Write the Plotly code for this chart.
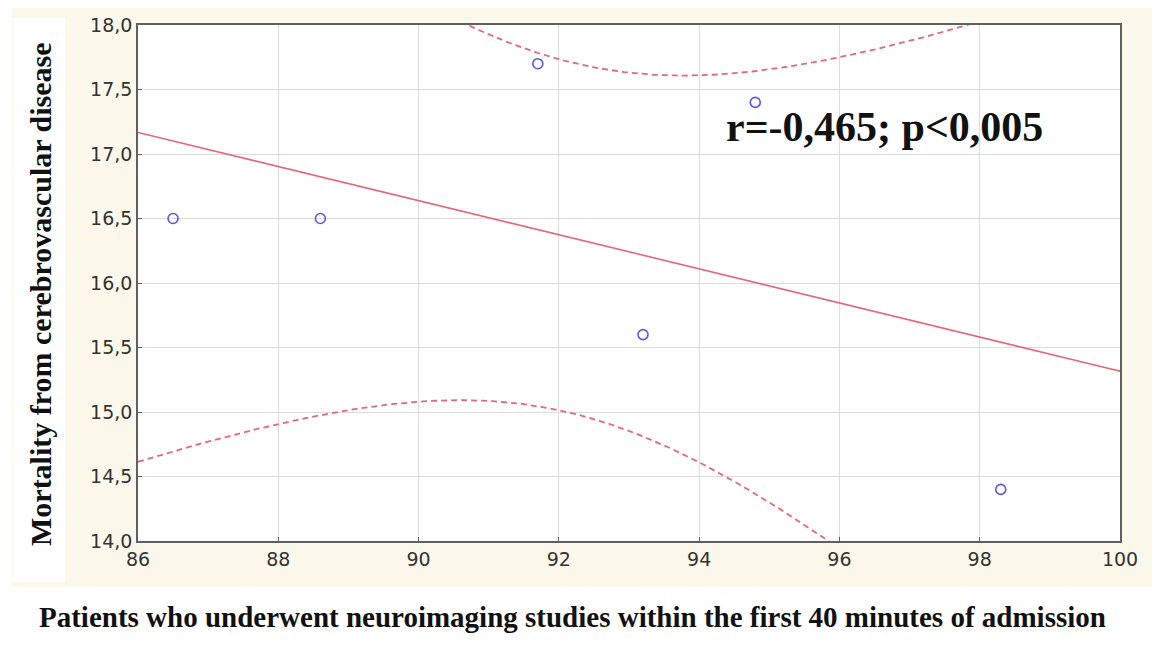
import numpy as np
import plotly.graph_objects as go

# Observations: share of patients imaged within 40 min vs. cerebrovascular mortality
imaging_pct = [86.5, 88.6, 91.7, 93.2, 94.8, 98.3]
mortality = [16.5, 16.5, 17.7, 15.6, 17.4, 14.4]

x_ticks = [86, 88, 90, 92, 94, 96, 98, 100]
y_ticks = [14.0, 14.5, 15.0, 15.5, 16.0, 16.5, 17.0, 17.5, 18.0]

stat_label = "r=-0,465; p<0,005"
x_title = "Patients who underwent neuroimaging studies within the first 40 minutes of admission"
y_title = "Mortality from cerebrovascular disease"

# Least-squares fit with 95% confidence band for the mean
x = np.array(imaging_pct)
y = np.array(mortality)
n = len(x)
slope, intercept = np.polyfit(x, y, 1)
resid = y - (slope * x + intercept)
s = np.sqrt(np.sum(resid ** 2) / (n - 2))
sxx = np.sum((x - x.mean()) ** 2)
t_crit = 2.776  # t(0.975, df=4)
xf = np.linspace(x_ticks[0], x_ticks[-1], 300)
yf = slope * xf + intercept
half = t_crit * s * np.sqrt(1 / n + (xf - x.mean()) ** 2 / sxx)

RED = "#e26a78"
BLUE = "#5a5ae0"

fig = go.Figure()
fig.add_trace(go.Scatter(x=xf, y=yf + half, mode="lines",
                         line=dict(color=RED, width=1.8, dash="6px,4px"), hoverinfo="skip"))
fig.add_trace(go.Scatter(x=xf, y=yf - half, mode="lines",
                         line=dict(color=RED, width=1.8, dash="6px,4px"), hoverinfo="skip"))
fig.add_trace(go.Scatter(x=xf, y=yf, mode="lines",
                         line=dict(color=RED, width=1.6), hoverinfo="skip"))
fig.add_trace(go.Scatter(x=imaging_pct, y=mortality, mode="markers",
                         marker=dict(symbol="circle-open", size=10, color=BLUE,
                                     line=dict(width=1.6, color=BLUE))))

W, H = 1152, 671
L, R, T, B = 138, 32, 25, 130
pw, ph = W - L - R, H - T - B


def px(xp):
    return (xp - L) / pw


def py(yp):
    return (H - B - yp) / ph


shapes = [
    # cream backdrop
    dict(type="rect", xref="paper", yref="paper", x0=px(12), x1=px(1160), y0=py(587), y1=py(8),
         fillcolor="#fdf8ec", line=dict(width=0), layer="below"),
    # white strip behind the vertical title
    dict(type="rect", xref="paper", yref="paper", x0=px(13), x1=px(65), y0=py(582), y1=py(18),
         fillcolor="#ffffff", line=dict(width=0), layer="below"),
    # plot area
    dict(type="rect", xref="paper", yref="paper", x0=0, x1=1, y0=0, y1=1,
         fillcolor="#ffffff", line=dict(width=0), layer="below"),
]

fig.update_layout(
    width=W, height=H,
    margin=dict(l=L, r=R, t=T, b=B),
    paper_bgcolor="#ffffff",
    plot_bgcolor="#ffffff",
    showlegend=False,
    separators=", ",
    shapes=shapes,
    annotations=[
        dict(text="<b>" + stat_label + "</b>", xref="paper", yref="paper", x=px(884), y=py(127),
             showarrow=False, xanchor="center", yanchor="middle",
             font=dict(family="Liberation Serif", size=42, color="#111111")),
        dict(text="<b>" + y_title + "</b>", xref="paper", yref="paper", x=px(40), y=py(294),
             showarrow=False, textangle=-90, xanchor="center", yanchor="middle",
             font=dict(family="Liberation Serif", size=30, color="#111111")),
        dict(text="<b>" + x_title + "</b>", xref="paper", yref="paper", x=px(572), y=py(617),
             showarrow=False, xanchor="center", yanchor="middle",
             font=dict(family="Liberation Serif", size=29, color="#111111")),
    ],
)

axis_common = dict(
    showline=True, linecolor="#606060", linewidth=1.6, mirror=True,
    showgrid=True, gridcolor="#dcdcdc", gridwidth=1,
    ticks="inside", ticklen=4, tickcolor="#606060",
    tickfont=dict(family="DejaVu Sans", size=19, color="#333333"),
    zeroline=False,
)
fig.update_xaxes(range=[86, 100], tickvals=x_ticks, ticktext=[str(v) for v in x_ticks], **axis_common)
fig.update_yaxes(range=[14, 18], tickvals=y_ticks, tickformat=".1f", **axis_common)

fig.write_html("out.html")
